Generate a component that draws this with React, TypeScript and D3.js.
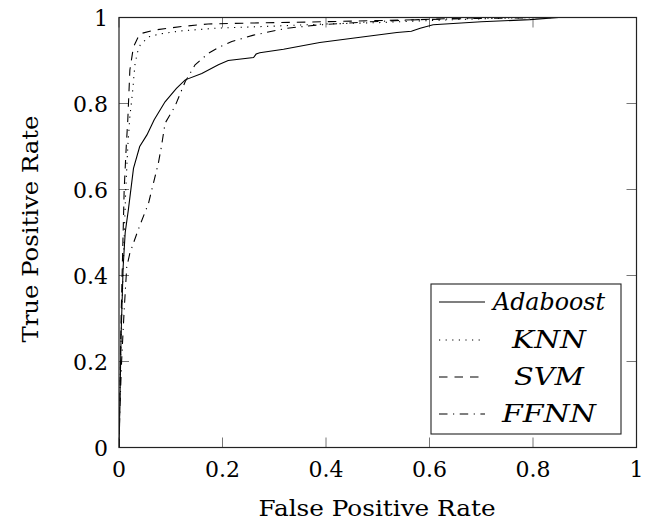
import React from "react";
import * as d3 from "d3";

const adaFpr = [0, 0.002, 0.004, 0.008, 0.012, 0.018, 0.028, 0.04, 0.054, 0.068, 0.089, 0.111, 0.128, 0.16, 0.192, 0.211, 0.26, 0.265, 0.272, 0.318, 0.388, 0.466, 0.537, 0.565, 0.582, 0.607, 0.7, 0.794, 0.85, 1];
const adaTpr = [0, 0.12, 0.26, 0.42, 0.5, 0.552, 0.649, 0.7, 0.727, 0.762, 0.804, 0.835, 0.855, 0.87, 0.89, 0.9, 0.907, 0.915, 0.918, 0.926, 0.942, 0.954, 0.965, 0.968, 0.975, 0.983, 0.99, 0.995, 1, 1];

const knnFpr = [0, 0.002, 0.005, 0.009, 0.013, 0.017, 0.021, 0.026, 0.031, 0.036, 0.041, 0.057, 0.08, 0.121, 0.186, 0.3, 0.4, 0.5, 0.6, 0.7, 0.8, 1];
const knnTpr = [0, 0.15, 0.3, 0.45, 0.6, 0.7, 0.77, 0.824, 0.893, 0.92, 0.936, 0.955, 0.962, 0.969, 0.975, 0.98, 0.985, 0.988, 0.993, 0.997, 1, 1];

const svmFpr = [0, 0.002, 0.004, 0.007, 0.01, 0.014, 0.017, 0.021, 0.028, 0.04, 0.07, 0.121, 0.172, 0.25, 0.39, 0.58, 0.7, 1];
const svmTpr = [0, 0.15, 0.3, 0.45, 0.6, 0.7, 0.762, 0.878, 0.932, 0.962, 0.971, 0.979, 0.985, 0.987, 0.99, 0.995, 1, 1];

const ffnnFpr = [0, 0.002, 0.005, 0.01, 0.015, 0.021, 0.037, 0.057, 0.076, 0.082, 0.089, 0.108, 0.128, 0.147, 0.173, 0.195, 0.218, 0.26, 0.324, 0.388, 0.485, 0.58, 0.7, 0.85, 1];
const ffnnTpr = [0, 0.1, 0.2, 0.32, 0.42, 0.452, 0.506, 0.568, 0.661, 0.7, 0.754, 0.793, 0.851, 0.89, 0.917, 0.932, 0.944, 0.959, 0.975, 0.983, 0.99, 0.995, 0.998, 1, 1];

const seriesNames = ["Adaboost", "KNN", "SVM", "FFNN"];
const tickValues = [0, 0.2, 0.4, 0.6, 0.8, 1];
const tickLabels = ["0", "0.2", "0.4", "0.6", "0.8", "1"];
const xTitle = "False Positive Rate";
const yTitle = "True Positive Rate";

const W = 659;
const H = 525;
const L = 119;
const R = 636.5;
const T = 17.5;
const B = 447.5;
const FONT = "'DejaVu Serif', serif";
const FS = 22;

const dashes = ["", "1.2 5.4", "8.5 7", "8.5 5.5 1.2 5.5"];

export default function App() {
  const x = d3.scaleLinear().domain([0, 1]).range([L, R]);
  const y = d3.scaleLinear().domain([0, 1]).range([B, T]);
  const line = d3
    .line<[number, number]>()
    .x((d) => x(d[0]))
    .y((d) => y(d[1]));
  const series = [
    [adaFpr, adaTpr],
    [knnFpr, knnTpr],
    [svmFpr, svmTpr],
    [ffnnFpr, ffnnTpr],
  ].map(([f, t]) => f.map((v, i) => [v, t[i]] as [number, number]));

  const tickLen = 10;
  const legX0 = 431;
  const legY0 = 284;
  const legW = 190;
  const legH = 150;
  const rowY = [302, 340, 377, 414];
  const legLens = [112, 74, 70, 94];

  return (
    <svg width={W} height={H} style={{ position: "absolute", left: 0, top: 0 }}>
      <rect x={0} y={0} width={W} height={H} fill="#fff" />
      <defs>
        <clipPath id="plotclip">
          <rect x={L} y={T - 1} width={R - L + 1} height={B - T + 2} />
        </clipPath>
      </defs>
      {tickValues.map((v, i) => (
        <g key={"t" + i} stroke="#777" strokeWidth={1}>
          <line x1={x(v)} x2={x(v)} y1={B} y2={B - tickLen} />
          <line x1={x(v)} x2={x(v)} y1={T} y2={T + tickLen} />
          <line x1={L} x2={L + tickLen} y1={y(v)} y2={y(v)} />
          <line x1={R} x2={R - tickLen} y1={y(v)} y2={y(v)} />
        </g>
      ))}
      <g clipPath="url(#plotclip)">
        {series.map((s, i) => (
          <path
            key={"s" + i}
            d={line(s) || ""}
            fill="none"
            stroke="#000"
            strokeWidth={1.1}
            strokeDasharray={dashes[i] || undefined}
          />
        ))}
      </g>
      <rect x={L} y={T} width={R - L} height={B - T} fill="none" stroke="#222" strokeWidth={1.2} />
      {tickValues.map((v, i) => (
        <text
          key={"xl" + i}
          x={x(v)}
          y={477}
          textAnchor="middle"
          fontFamily={FONT}
          fontSize={FS}
          fill="#000"
        >
          {tickLabels[i]}
        </text>
      ))}
      {tickValues.map((v, i) => (
        <text
          key={"yl" + i}
          x={108}
          y={y(v) + 8}
          textAnchor="end"
          fontFamily={FONT}
          fontSize={FS}
          fill="#000"
        >
          {tickLabels[i]}
        </text>
      ))}
      <text
        x={377}
        y={516}
        textAnchor="middle"
        fontFamily={FONT}
        fontSize={FS}
        textLength={237}
        lengthAdjust="spacingAndGlyphs"
        fill="#000"
      >
        {xTitle}
      </text>
      <text
        transform={`translate(38, 229) rotate(-90)`}
        textAnchor="middle"
        fontFamily={FONT}
        fontSize={FS}
        textLength={227}
        lengthAdjust="spacingAndGlyphs"
        fill="#000"
      >
        {yTitle}
      </text>
      <rect x={legX0} y={legY0} width={legW} height={legH} fill="#fff" stroke="#222" strokeWidth={1.1} />
      {seriesNames.map((n, i) => (
        <g key={"lg" + i}>
          <line
            x1={439}
            x2={485}
            y1={rowY[i]}
            y2={rowY[i]}
            stroke="#000"
            strokeWidth={1.1}
            strokeDasharray={dashes[i] || undefined}
          />
          <text
            x={549}
            y={rowY[i] + 8}
            textAnchor="middle"
            fontFamily={FONT}
            fontStyle="italic"
            fontSize={24}
            textLength={legLens[i]}
            lengthAdjust="spacingAndGlyphs"
            fill="#000"
          >
            {n}
          </text>
        </g>
      ))}
    </svg>
  );
}
